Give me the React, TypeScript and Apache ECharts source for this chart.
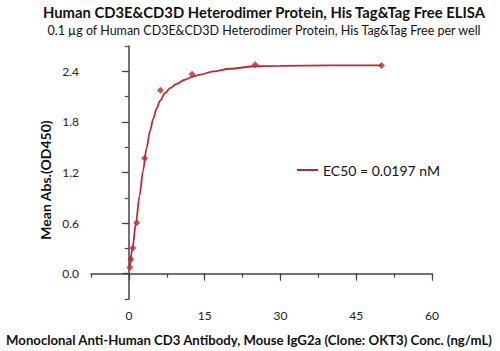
import React, { useEffect, useRef } from "react";
import * as echarts from "echarts";

const conc = [50, 25, 12.5, 6.25, 3.125, 1.5625, 0.78125, 0.390625, 0.1953125];
const od = [2.47, 2.477, 2.366, 2.175, 1.37, 0.604, 0.305, 0.17, 0.075];

const fitX = [0.2, 0.73, 1.39, 2.1, 2.8, 3.5, 4.17, 4.83, 5.49, 6.15, 7.14, 8.13, 9.46, 11.1, 12.8, 14.1, 16.7, 20, 25, 30, 40, 50];
const fitY = [0.08, 0.31, 0.6, 0.92, 1.22, 1.49, 1.69, 1.84, 1.96, 2.05, 2.14, 2.2, 2.25, 2.3, 2.34, 2.36, 2.4, 2.43, 2.46, 2.465, 2.47, 2.47];

const xMajor = [0, 15, 30, 45, 60];
const yMajor = [0, 0.6, 1.2, 1.8, 2.4];

const title = "Human CD3E&CD3D Heterodimer Protein, His Tag&Tag Free ELISA";
const subtitle = "0.1 µg of Human CD3E&CD3D Heterodimer Protein, His Tag&Tag Free per well";
const xName = "Monoclonal Anti-Human CD3 Antibody, Mouse IgG2a (Clone: OKT3) Conc. (ng/mL)";
const yName = "Mean Abs.(OD450)";
const legendName = "EC50 = 0.0197 nM";

const RED = "#c0282d";
const AXIS = "#444";
const FONT = "Lato";

export default function App() {
  const ref = useRef<HTMLDivElement>(null);
  useEffect(() => {
    const chart = echarts.init(ref.current!, null, { renderer: "svg" });
    const grid = { left: 91, right: 68, top: 46, bottom: 52 };
    const xBase = {
      type: "value" as const,
      min: -7.5,
      max: 60,
      interval: 7.5,
      splitLine: { show: false },
    };
    const yBase = {
      type: "value" as const,
      min: -0.3,
      max: 2.7,
      interval: 0.3,
      splitLine: { show: false },
    };
    const txt = (text: string, size: number, bold: boolean) => ({
      text,
      fontFamily: FONT,
      fontSize: size,
      fontWeight: bold ? "bold" : "normal",
      fill: "#111",
      align: "center",
      verticalAlign: "middle",
    });
    chart.setOption({
      animation: false,
      grid,
      graphic: [
        { type: "text", x: 264, y: 12, style: txt(title, 14.8, true) },
        { type: "text", x: 264, y: 30, style: txt(subtitle, 12.5, false) },
        { type: "text", x: 249, y: 340, style: txt(xName, 13.2, true) },
        { type: "text", x: 45, y: 180, rotation: Math.PI / 2, style: txt(yName, 14, true) },
      ],
      legend: {
        data: [legendName],
        left: 292,
        top: 158,
        icon: "rect",
        itemWidth: 21,
        itemHeight: 2,
        itemGap: 6,
        textStyle: { fontFamily: FONT, fontSize: 14, color: "#111" },
      },
      xAxis: [
        {
          ...xBase,
          axisLine: { lineStyle: { color: AXIS, width: 1.5 } },
          axisTick: { length: 4, lineStyle: { color: AXIS, width: 1.2 } },
          axisLabel: {
            customValues: xMajor,
            margin: 10,
            fontFamily: FONT,
            fontSize: 12,
            color: "#222",
          },
        },
        {
          ...xBase,
          position: "bottom",
          axisLine: { show: false },
          axisTick: { customValues: xMajor, length: 7, lineStyle: { color: AXIS, width: 1.2 } },
          axisLabel: { show: false },
        },
      ],
      yAxis: [
        {
          ...yBase,
          axisLine: { show: true, lineStyle: { color: AXIS, width: 1.5 } },
          axisTick: { show: true, length: 4, lineStyle: { color: AXIS, width: 1.2 } },
          axisLabel: {
            customValues: yMajor,
            margin: 12,
            formatter: (v: number) => v.toFixed(1),
            fontFamily: FONT,
            fontSize: 12,
            color: "#222",
          },
        },
        {
          ...yBase,
          position: "left",
          axisLine: { show: false },
          axisTick: { show: true, customValues: yMajor, length: 7, lineStyle: { color: AXIS, width: 1.2 } },
          axisLabel: { show: false },
        },
      ],
      series: [
        {
          name: legendName,
          type: "line",
          data: fitX.map((x, i) => [x, fitY[i]]),
          smooth: 0.3,
          smoothMonotone: "x",
          showSymbol: false,
          symbol: "none",
          lineStyle: { color: RED, width: 1.8 },
          itemStyle: { color: RED },
        },
        {
          name: "data",
          type: "scatter",
          data: conc.map((x, i) => [x, od[i]]),
          symbol: "diamond",
          symbolSize: 7,
          itemStyle: { color: RED },
        },
      ],
    });
    return () => chart.dispose();
  }, []);
  return <div ref={ref} style={{ width: 500, height: 351, position: "absolute", left: 0, top: 0 }} />;
}
